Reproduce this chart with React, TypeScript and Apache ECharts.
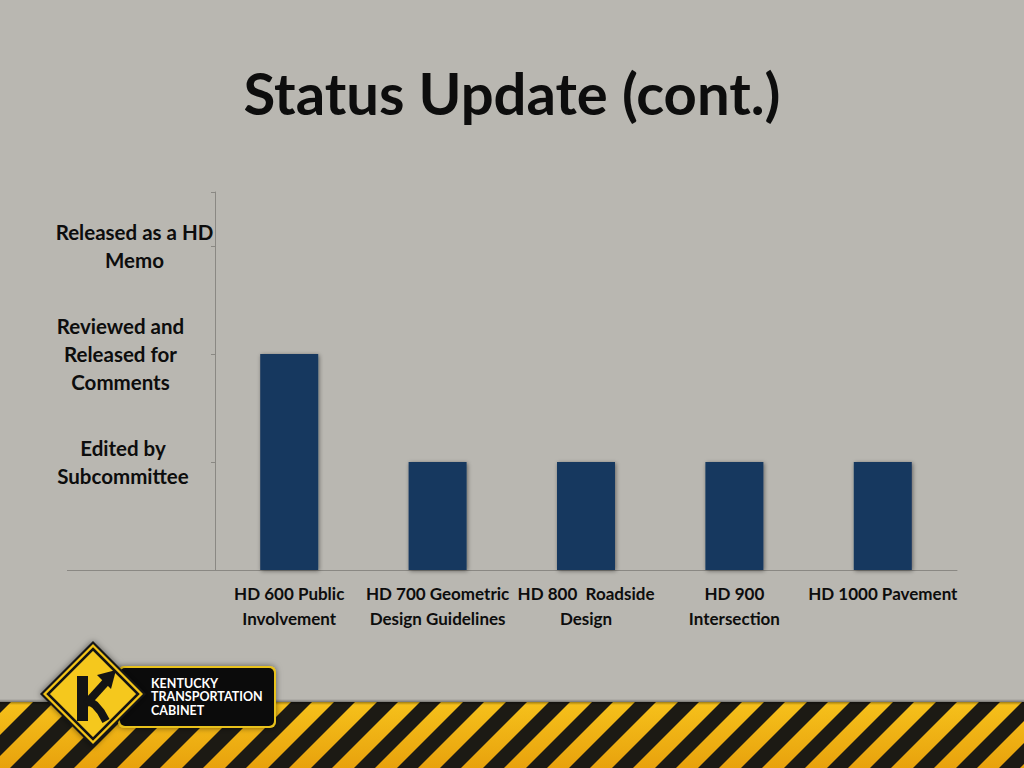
import React, { useEffect, useRef } from "react";
import * as echarts from "echarts";

const categories = [
  "HD 600 Public\nInvolvement",
  "HD 700 Geometric\nDesign Guidelines",
  "HD 800  Roadside\nDesign",
  "HD 900\nIntersection",
  "HD 1000 Pavement",
];
const statusValues = [2, 1, 1, 1, 1];
const statusLabels = [
  "",
  "Edited by\nSubcommittee",
  "Reviewed and\nReleased for\nComments",
  "Released as a HD\nMemo",
];
const titleText = "Status Update (cont.)";
const logoLines = ["KENTUCKY", "TRANSPORTATION", "CABINET"];

const FONT = "Lato, 'Open Sans', sans-serif";

function buildStripes() {
  const els: any[] = [];
  const y0 = 702;
  const y1 = 768;
  const h = y1 - y0;
  els.push({
    type: "rect",
    shape: { x: 0, y: y0, width: 1024, height: h },
    style: {
      fill: new echarts.graphic.LinearGradient(0, 0, 0, 1, [
        { offset: 0, color: "#f6c11b" },
        { offset: 1, color: "#e8a20d" },
      ]),
    },
    silent: true,
  });
  for (let i = -3; i < 26; i++) {
    const x0 = i * 43 + 10;
    els.push({
      type: "polygon",
      shape: {
        points: [
          [x0, y1],
          [x0 + 21, y1],
          [x0 + 21 + h, y0],
          [x0 + h, y0],
        ],
      },
      style: { fill: "#1c1a14" },
      silent: true,
    });
  }
  els.push({
    type: "rect",
    shape: { x: 0, y: y0 - 3, width: 1024, height: 6 },
    style: {
      fill: new echarts.graphic.LinearGradient(0, 0, 0, 1, [
        { offset: 0, color: "rgba(0,0,0,0)" },
        { offset: 0.5, color: "rgba(0,0,0,0.35)" },
        { offset: 1, color: "rgba(0,0,0,0)" },
      ]),
    },
    silent: true,
  });
  return els;
}

function buildLogo() {
  const els: any[] = [];
  els.push({
    type: "rect",
    shape: { x: 118, y: 666, width: 158, height: 62, r: 6 },
    style: { fill: "#e9c21c", shadowBlur: 6, shadowColor: "rgba(0,0,0,0.5)" },
    silent: true,
  });
  els.push({
    type: "rect",
    shape: { x: 120, y: 668, width: 154, height: 58, r: 5 },
    style: { fill: "#0b0b0b" },
    silent: true,
  });
  logoLines.forEach((t, i) => {
    els.push({
      type: "text",
      x: 151,
      y: 683 + i * 13.5,
      style: {
        text: t,
        fill: "#ffffff",
        font: `bold 12.5px ${FONT}`,
        textAlign: "left",
        textVerticalAlign: "middle",
      },
      silent: true,
    });
  });
  const cx = 93;
  const cy = 694;
  const dia = (r: number) => [
    [cx, cy - r],
    [cx + r, cy],
    [cx, cy + r],
    [cx - r, cy],
  ];
  els.push({
    type: "polygon",
    shape: { points: dia(53) },
    style: { fill: "#141414", shadowBlur: 6, shadowColor: "rgba(0,0,0,0.5)" },
    silent: true,
  });
  els.push({
    type: "polygon",
    shape: { points: dia(50) },
    style: { fill: "#f2c318" },
    silent: true,
  });
  els.push({
    type: "polygon",
    shape: { points: dia(45) },
    style: { fill: "#f5c81d", stroke: "#141414", lineWidth: 2.5 },
    silent: true,
  });
  els.push({
    type: "rect",
    shape: { x: 77, y: 676, width: 11, height: 45 },
    style: { fill: "#141414" },
    silent: true,
  });
  els.push({
    type: "polyline",
    shape: { points: [[86, 704], [106, 682]] },
    style: { stroke: "#141414", lineWidth: 8 },
    silent: true,
  });
  els.push({
    type: "polygon",
    shape: { points: [[116, 670], [97, 675], [111, 689]] },
    style: { fill: "#141414" },
    silent: true,
  });
  els.push({
    type: "polyline",
    shape: { points: [[86, 699], [95, 705], [101, 712], [106, 721]] },
    style: { stroke: "#141414", lineWidth: 8 },
    silent: true,
  });
  return els;
}

export default function App() {
  const ref = useRef<HTMLDivElement>(null);
  useEffect(() => {
    if (!ref.current) return;
    const chart = echarts.init(ref.current, null, { renderer: "svg" });
    const labelFont = {
      fontFamily: FONT,
      fontWeight: "bold" as const,
      fontSize: 20.5,
      lineHeight: 28,
      color: "#0d0d0d",
    };
    chart.setOption({
      animation: false,
      backgroundColor: "#b9b7b1",
      title: {
        text: titleText,
        left: "center",
        top: 58,
        textStyle: {
          fontFamily: FONT,
          fontWeight: "bold",
          fontSize: 58,
          color: "#0d0d0d",
        },
      },
      grid: { left: 215, right: 67, top: 192, bottom: 198, containLabel: false },
      xAxis: {
        type: "category",
        data: categories,
        axisLine: { show: true, lineStyle: { color: "#8a8883", width: 1 } },
        axisTick: { show: false },
        axisLabel: {
          interval: 0,
          hideOverlap: false,
          margin: 11,
          fontFamily: FONT,
          fontWeight: "bold",
          fontSize: 17,
          lineHeight: 25,
          color: "#0d0d0d",
        },
      },
      yAxis: {
        type: "value",
        min: 0,
        max: 3.5,
        interval: 1,
        splitLine: { show: false },
        axisLine: { show: true, lineStyle: { color: "#8a8883", width: 1 } },
        axisTick: { show: true, length: 4, lineStyle: { color: "#8a8883" } },
        axisLabel: {
          align: "left",
          margin: 160,
          formatter: (v: number) => {
            if (!Number.isInteger(v) || v <= 0 || v >= statusLabels.length) return "";
            return statusLabels[v]
              .split("\n")
              .map((l) => `{s${v}|${l}}`)
              .join("\n");
          },
          rich: {
            s1: { ...labelFont, width: 136, align: "center" },
            s2: { ...labelFont, width: 131, align: "center" },
            s3: { ...labelFont, width: 159, align: "center" },
          },
        },
      },
      series: [
        {
          type: "bar",
          data: statusValues,
          barWidth: 58,
          itemStyle: {
            color: "#17375e",
            shadowBlur: 4,
            shadowColor: "rgba(0,0,0,0.45)",
            shadowOffsetX: 1,
            shadowOffsetY: 1,
          },
        },
      ],
      graphic: {
        elements: [
          {
            type: "line",
            shape: { x1: 67, y1: 570.5, x2: 215, y2: 570.5 },
            style: { stroke: "#8a8883", lineWidth: 1 },
            silent: true,
          },
          ...buildStripes(),
          ...buildLogo(),
        ],
      },
    });
    return () => chart.dispose();
  }, []);
  return (
    <div
      ref={ref}
      style={{ position: "fixed", left: 0, top: 0, width: 1024, height: 768 }}
    />
  );
}
